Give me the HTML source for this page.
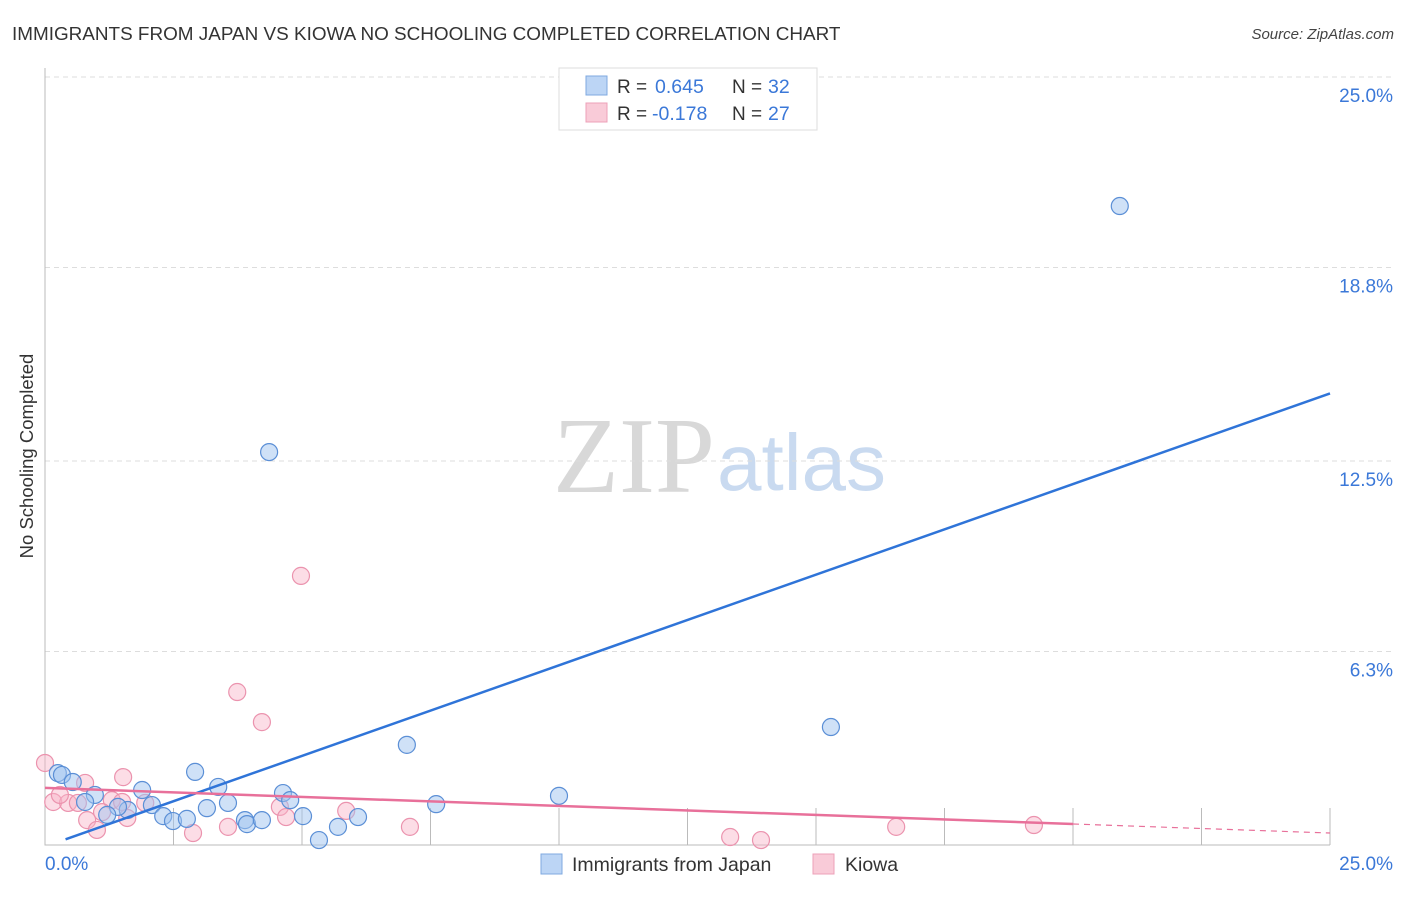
<!DOCTYPE html>
<html><head><meta charset="utf-8"><style>
body{margin:0;background:#fff;font-family:"Liberation Sans",sans-serif;}
svg text{font-family:"Liberation Sans",sans-serif;}
</style></head><body>
<svg id="chart" width="1406" height="892" xmlns="http://www.w3.org/2000/svg">
<text x="12" y="40" font-size="18.9" fill="#333">IMMIGRANTS FROM JAPAN VS KIOWA NO SCHOOLING COMPLETED CORRELATION CHART</text>
<text x="1394" y="39" font-size="15" fill="#444" font-style="italic" text-anchor="end">Source: ZipAtlas.com</text>
<g>
<text x="553" y="492" font-size="108" fill="#d8d8d8" font-family="Liberation Serif" style="font-family:'Liberation Serif',serif">ZIP</text>
<text x="717" y="490" font-size="80" fill="#c9daf0">atlas</text>
</g>
<g id="grid"></g>
<g id="axes"></g>
<g id="points"></g>
<g id="lines"></g>
<text transform="translate(33,456) rotate(-90)" font-size="18.5" fill="#333" text-anchor="middle">No Schooling Completed</text>
<g>
<rect x="559" y="68" width="258" height="62" fill="#fff" stroke="#ddd"/>
<rect x="586" y="76" width="21" height="19" fill="#bcd5f5" stroke="#7fa9e0"/>
<rect x="586" y="103" width="21" height="19" fill="#f9cbd8" stroke="#eda0b8"/>
<text x="617" y="93" font-size="19" fill="#333">R = </text><text x="655" y="93" font-size="19.5" fill="#3b78d8">0.645</text>
<text x="732" y="93" font-size="19" fill="#333">N = </text><text x="768" y="93" font-size="19.5" fill="#3b78d8">32</text>
<text x="617" y="120" font-size="19" fill="#333">R = </text><text x="652" y="120" font-size="19.5" fill="#3b78d8">-0.178</text>
<text x="732" y="120" font-size="19" fill="#333">N = </text><text x="768" y="120" font-size="19.5" fill="#3b78d8">27</text>
</g>
<g>
<rect x="541" y="854" width="21" height="20" fill="#bcd5f5" stroke="#7fa9e0"/>
<text x="572" y="871" font-size="19.5" fill="#333">Immigrants from Japan</text>
<rect x="813" y="854" width="21" height="20" fill="#f9cbd8" stroke="#eda0b8"/>
<text x="845" y="871" font-size="19.5" fill="#333">Kiowa</text>
</g>
</svg>
<script>
const yTicks=[25.0,18.8,12.5,6.3];
const yTickLabels=["25.0%","18.8%","12.5%","6.3%"];
const xTickLabels=["0.0%","25.0%"];
const blueX=[0.25,0.33,0.54,2.92,3.37,1.89,0.97,0.78,4.63,4.77,3.56,3.15,2.08,1.61,1.42,1.21,2.30,2.49,2.76,3.89,3.93,4.22,5.02,6.09,5.70,5.33,7.61,7.04,4.36,10.0,15.29,20.91];
const blueY=[2.34,2.28,2.05,2.38,1.89,1.79,1.63,1.40,1.69,1.46,1.37,1.20,1.30,1.14,1.24,0.98,0.94,0.78,0.85,0.81,0.68,0.81,0.94,0.91,0.59,0.16,1.33,3.26,12.79,1.60,3.84,20.80];
const pinkX=[0,1.52,0.78,0.16,0.45,0.64,0.29,1.30,1.50,1.95,1.11,0.82,1.01,1.60,2.88,3.56,4.57,4.69,5.86,7.10,4.98,3.74,4.22,13.33,13.93,16.56,19.24];
const pinkY=[2.67,2.21,2.02,1.40,1.37,1.37,1.63,1.46,1.40,1.37,1.07,0.81,0.49,0.88,0.39,0.59,1.24,0.91,1.11,0.59,8.76,4.98,4.00,0.26,0.16,0.59,0.65];
const blueTrend=[-0.05,14.7];
const pinkTrend=[1.86,0.39];
const NS="http://www.w3.org/2000/svg";
const xs=v=>45+v*1285/25;
const ys=v=>845-v*30.72;
function mk(tag,attrs,parent){const e=document.createElementNS(NS,tag);for(const k in attrs)e.setAttribute(k,attrs[k]);document.getElementById(parent).appendChild(e);return e;}
yTicks.forEach((t,i)=>{
 const g=mk('line',{x1:45,x2:1394,y1:ys(t),y2:ys(t),stroke:'#ddd','stroke-dasharray':'5,4'},'grid');
 
 
 const l=mk('text',{x:1393,y:ys(t)+25,'font-size':19,fill:'#3b78d8','text-anchor':'end'},'axes');
 l.textContent=yTickLabels[i];
 
 
});
const ax=mk('path',{d:'M45 68V845H1330',fill:'none',stroke:'#bbb'},'axes');


for(let i=1;i<=10;i++){
 const t=mk('line',{x1:xs(i*2.5),x2:xs(i*2.5),y1:808,y2:845,stroke:'#bbb'},'axes');
 
 
}
const xl0=mk('text',{x:45,y:870,'font-size':19,fill:'#3b78d8'},'axes');xl0.textContent=xTickLabels[0];


const xl1=mk('text',{x:1393,y:870,'font-size':19,fill:'#3b78d8','text-anchor':'end'},'axes');xl1.textContent=xTickLabels[1];


pinkX.forEach((x,i)=>{
 const c=mk('circle',{cx:xs(x),cy:ys(pinkY[i]),r:8.5,fill:'rgba(248,180,200,0.45)',stroke:'#eb93ae','stroke-width':1.2},'points');
 
 
});
blueX.forEach((x,i)=>{
 const c=mk('circle',{cx:xs(x),cy:ys(blueY[i]),r:8.5,fill:'rgba(160,196,240,0.5)',stroke:'#5b8fd6','stroke-width':1.2},'points');
 
 
});
const bl=mk('line',{x1:xs(0.4),y1:ys(blueTrend[0]+(blueTrend[1]-blueTrend[0])*0.4/25),x2:xs(25),y2:ys(blueTrend[1]),stroke:'#2f74d8','stroke-width':2.5},'lines');


const pAt=x=>pinkTrend[0]+(pinkTrend[1]-pinkTrend[0])*x/25;
const pl=mk('line',{x1:xs(0),y1:ys(pAt(0)),x2:xs(20),y2:ys(pAt(20)),stroke:'#e8709a','stroke-width':2.5},'lines');


const pd=mk('line',{x1:xs(20),y1:ys(pAt(20)),x2:xs(25),y2:ys(pAt(25)),stroke:'#e8709a','stroke-width':1.2,'stroke-dasharray':'6,5'},'lines');


</script>
</body></html>
